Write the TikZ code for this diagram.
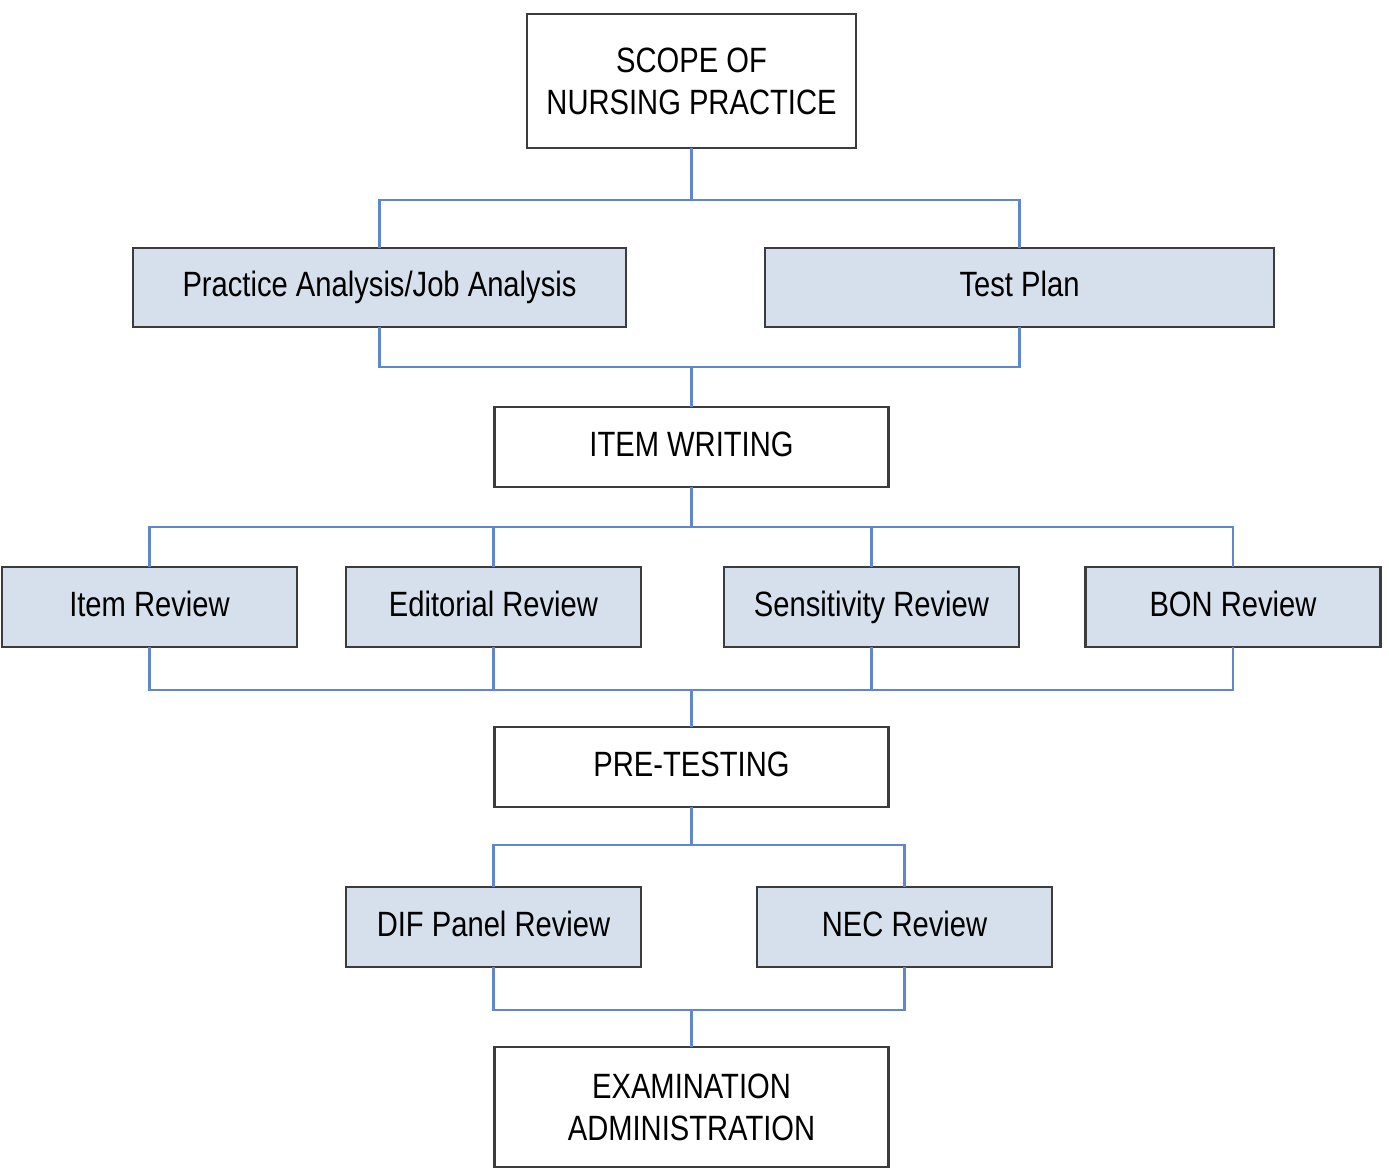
\documentclass[tikz,border=0pt]{standalone}
\usepackage{fontspec}
\setmainfont[FakeStretch=0.83]{Liberation Sans}
\usepackage{tikz}
\usetikzlibrary{positioning}
\definecolor{boxfill}{RGB}{214,223,236}
\definecolor{boxline}{RGB}{60,60,60}
\definecolor{linkblue}{RGB}{96,134,206}
\tikzset{
    %Define style for white stage boxes
    stage/.style={
           rectangle,
           draw=boxline, line width=0.8pt,
           fill=white,
           minimum width=3.94cm,
           minimum height=0.80cm,
           font=\fontsize{10}{12}\selectfont,
           align=center,
           inner sep=0pt, outer sep=0pt},
    %Define style for shaded boxes
    review/.style={
           rectangle,
           draw=boxline, line width=0.8pt,
           fill=boxfill,
           minimum width=2.95cm,
           minimum height=0.80cm,
           font=\fontsize{10}{12}\selectfont,
           text height=7.3pt, text depth=2.1pt,
           inner sep=0pt, outer sep=0pt},
    %Single line text
    oneline/.style={
           text height=7.3pt, text depth=2.1pt},
    % Define connector style
    link/.style={
           draw=linkblue,
           line width=0.6pt}
}
\begin{document}
\begin{tikzpicture}[node distance=0.8cm]
\useasboundingbox (0,0) rectangle (13.89,-11.71);
 %nodes
\node[stage, minimum width=3.29cm, minimum height=1.34cm](scope) at (6.915,-0.81){SCOPE OF\\NURSING PRACTICE};
\node[review, minimum width=4.93cm, minimum height=0.79cm](pa) at (3.795,-2.875){Practice Analysis/Job Analysis};
\node[review, minimum width=5.09cm, minimum height=0.79cm](tp) at (10.195,-2.875){Test Plan};
\node[stage, oneline, below=2.59cm of scope](iw){ITEM WRITING};

\node[review](ir) at (1.495,-6.07){Item Review};
\node[review](er) at (4.935,-6.07){Editorial Review};
\node[review](sr) at (8.715,-6.07){Sensitivity Review};
\node[review](bon) at (12.33,-6.07){BON Review};

\node[stage, oneline, below=2.40cm of iw](pt){PRE-TESTING};
\node[review](dif) at (4.935,-9.27){DIF Panel Review};
\node[review](nec) at (9.045,-9.27){NEC Review};
\node[stage, minimum height=1.20cm, below=2.40cm of pt](ex){EXAMINATION\\ADMINISTRATION};

 %connectors
\draw[link] (scope.south) -- ++(0,-0.52) -| (pa.north);
\draw[link] (scope.south) -- ++(0,-0.52) -| (tp.north);
\draw[link] (pa.south) -- ++(0,-0.40) -| (iw.north);
\draw[link] (tp.south) -- ++(0,-0.40) -| (iw.north);
\foreach \r in {ir,er,sr,bon} {
    \draw[link] (iw.south) -- ++(0,-0.40) -| (\r.north);
    \draw[link] (\r.south) -- ++(0,-0.43) -| (pt.north);
}
\foreach \r in {dif,nec} {
    \draw[link] (pt.south) -- ++(0,-0.38) -| (\r.north);
    \draw[link] (\r.south) -- ++(0,-0.43) -| (ex.north);
}
\end{tikzpicture}
\end{document}
